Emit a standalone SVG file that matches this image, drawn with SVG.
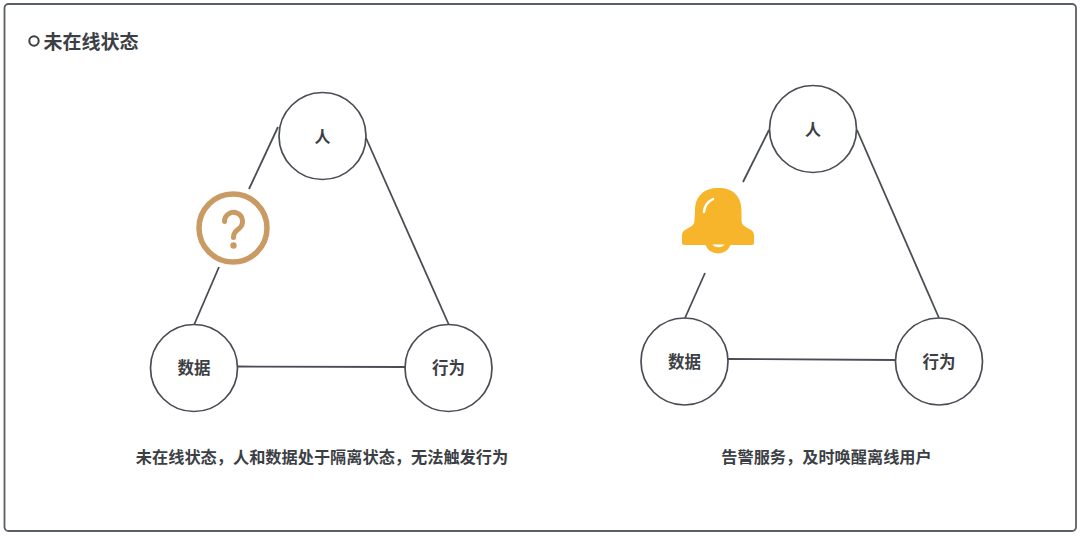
<svg xmlns="http://www.w3.org/2000/svg" width="1080" height="536" viewBox="0 0 1080 536">
<style>
.t{font-family:"Noto Sans CJK SC","Noto Sans",sans-serif;font-weight:700;fill:#3c3f45;text-anchor:middle}
.n{fill:#fff;stroke:#4a4d55;stroke-width:1.7}
.c{stroke:#4a4d55;stroke-width:1.8;fill:none}
</style>
<rect width="1080" height="536" fill="#fff"/>
<rect x="4.500" y="4" width="1071.500" height="527" rx="4" fill="#fff" stroke="#5a5e66" stroke-width="1.800"/>
<g id="heading">
<circle cx="34" cy="41" r="4.700" fill="none" stroke="#3c3f45" stroke-width="2"/>
<text class="t" x="91" y="49" font-size="19">未在线状态</text>
</g>
<g id="connectors">
<line class="c" x1="278" y1="127" x2="249" y2="189"/>
<line class="c" x1="219" y1="267" x2="194" y2="325"/>
<line class="c" x1="366" y1="138" x2="449" y2="325"/>
<line class="c" x1="238" y1="366.500" x2="405" y2="367"/>
<line class="c" x1="769" y1="130" x2="743" y2="182"/>
<line class="c" x1="705" y1="273" x2="685" y2="318"/>
<line class="c" x1="857" y1="130" x2="939" y2="318"/>
<line class="c" x1="728" y1="359" x2="895" y2="360"/>
</g>
<g id="left-person"><circle class="n" cx="322.500" cy="136" r="43.500"/><text class="t" x="322.500" y="142" font-size="16">人</text></g>
<g id="left-data"><circle class="n" cx="194" cy="368" r="43.500"/><text class="t" x="194" y="374" font-size="16.500">数据</text></g>
<g id="left-action"><circle class="n" cx="448.500" cy="368" r="43.500"/><text class="t" x="448.500" y="374" font-size="16.500">行为</text></g>
<g id="question-icon">
<circle cx="233" cy="228" r="34" fill="#fff" stroke="#c99a62" stroke-width="5.500"/>
<path d="M224.500 221.500a9 9 0 1 1 14.500 7c-3.500 2.800-5.500 4.500-5.500 9" fill="none" stroke="#c99a62" stroke-width="5" stroke-linecap="round"/>
<circle cx="233.500" cy="245.500" r="3.200" fill="#c99a62"/>
</g>
<g id="right-person"><circle class="n" cx="813" cy="129" r="43.500"/><text class="t" x="813" y="135" font-size="16">人</text></g>
<g id="right-data"><circle class="n" cx="684.500" cy="361.500" r="43.500"/><text class="t" x="684.500" y="367.500" font-size="16.500">数据</text></g>
<g id="right-action"><circle class="n" cx="939" cy="361.500" r="43.500"/><text class="t" x="939" y="367.500" font-size="16.500">行为</text></g>
<g id="bell-icon">
<path d="M695 211c0-15 9-23 23.500-23s23 8 23 23v9c0 3 1 5 3.500 6.500l6 3.500c2 1.300 3 2.800 3 5v8c0 1.200-.8 2-2 2h-21.500a13.500 13.500 0 0 1-25 0h-21.500c-1.200 0-2-.8-2-2v-8c0-2.200 1-3.700 3-5l6-3.500c2.500-1.500 3.500-3.500 3.500-6.500z" fill="#f7b52c"/>
<path d="M704 212c.5-6 3-10 9-13" fill="none" stroke="#fff" stroke-width="2.500" stroke-linecap="round"/>
<path d="M712.500 244.500h12a6.500 4.500 0 0 1-12 0z" fill="#fff"/>
</g>
<g id="captions">
<text class="t" x="322" y="463" font-size="16.200">未在线状态，人和数据处于隔离状态，无法触发行为</text>
<text class="t" x="826.500" y="463" font-size="16.200">告警服务，及时唤醒离线用户</text>
</g>
</svg>
